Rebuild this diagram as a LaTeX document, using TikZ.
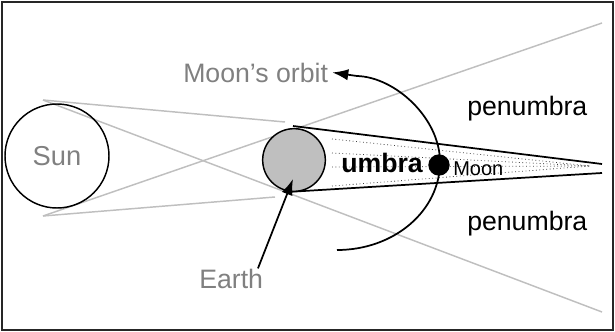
\documentclass[tikz,border=0pt]{standalone}
\usepackage{fontspec}
\setmainfont{Liberation Sans}
\usetikzlibrary{arrows.meta}
\begin{document}
\begin{tikzpicture}[x=0.75pt,y=-0.75pt,
  ray/.style={black!25,line width=1.1pt},
  shade line/.style={black,line width=1.3pt},
  pointer/.style={black,line width=1.3pt,-{Latex[length=12pt,width=8.5pt]}},
  lbl/.style={inner sep=0pt,anchor=base west,font=\fontsize{20}{24}\selectfont},
  gray lbl/.style={lbl,text=black!50}]
\useasboundingbox (0,0) rectangle (615,332);
\draw[line width=1.5pt,black!85] (2,2) rectangle (613,330); % frame
% rays from the Sun
\coordinate (suntop) at (43,100);
\coordinate (sunbot) at (43,216);
\draw[ray] (suntop) -- (285,122);
\draw[ray] (sunbot) -- (275,197);
\draw[ray] (suntop) -- (602,312);
\draw[ray] (sunbot) -- (602,23);
% umbra cone
\draw[shade line] (293,126) -- (602,164);
\draw[shade line] (287,192) -- (602,173);
\foreach \y in {139,153,167,186} % edit here for the dotted lines
\draw[black!75,line width=0.6pt,dotted] (332,\y) -- (590,166);
% bodies
\node[circle,draw,line width=1.1pt,minimum size=78pt,inner sep=0pt,
  text=black!50,font=\fontsize{20.5}{24}\selectfont] (sun) at (57,156) {Sun};
\node[circle,draw,fill=black!25,line width=1.1pt,minimum size=47pt] (earth) at (294,160) {};
\coordinate (earthtip) at (293,179);
% labels
\node[gray lbl] (orbit) at (183,82) {Moon’s orbit};
\node[gray lbl] (earthlbl) at (199,288) {Earth};
\node[lbl,font=\bfseries\fontsize{20}{24}\selectfont] (umbra) at (341,172) {umbra};
\node[lbl] (penup) at (467,115) {penumbra};
\node[lbl] (pendown) at (467,230) {penumbra};
% orbit of the Moon
\draw[pointer] (337,250) .. controls (394,250) and (440,211) .. (440,162)
  .. controls (440,118) and (395,77) .. (357,76) -- ([xshift=3pt]orbit.east);
\node[circle,fill=black,inner sep=0pt,minimum size=16pt] (moon) at (439,165) {};
\node[lbl,font=\fontsize{15}{18}\selectfont] (moonlbl) at (453,175) {Moon};
\draw[pointer] ([xshift=-4pt]earthlbl.north east) -- (earthtip);
\end{tikzpicture}
\end{document}
